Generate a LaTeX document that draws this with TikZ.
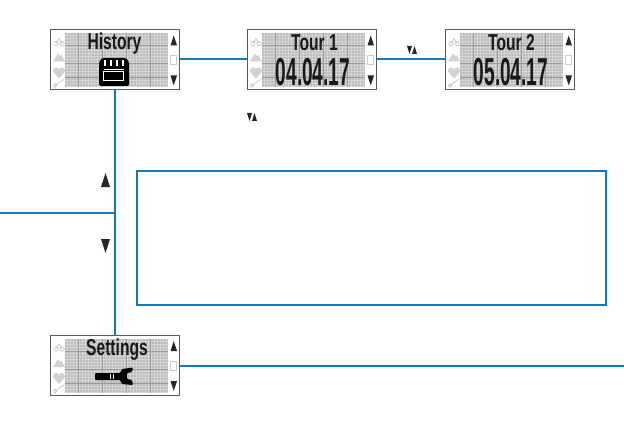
\documentclass[tikz,border=0pt]{standalone}
\usepackage{fontspec}
\setmainfont{Liberation Sans}
\usepackage{xcolor}
\usepackage{graphicx}
\usepackage{tikz}
\usetikzlibrary{positioning, calc}

\begin{document}
\begin{tikzpicture}[
        x=1pt, y=-1pt,
        screenbox/.style={draw={rgb,255:red,90;green,90;blue,90}, line width=1pt, fill=white,
            minimum width=129pt, minimum height=60pt, inner sep=0pt, outer sep=0pt},
        notebox/.style={draw=linkblue, line width=2pt, minimum width=469pt, minimum height=134pt,
            inner sep=0pt},
        link/.style={draw=linkblue, line width=2pt},
        titletext/.style={inner sep=0pt, text=black!90},
        iconfill/.style={fill=black!18, draw=none},
        iconline/.style={draw=black!22, line width=0.7pt},
    ]
    \useasboundingbox (0,0) rectangle (624,425);
    \definecolor{linkblue}{RGB}{16,122,180}
    \newcommand{\titlefont}[1]{\scalebox{0.68}[1]{\fontsize{23}{24}\selectfont\bfseries #1}}
    \newcommand{\datefont}[1]{\scalebox{0.49}[1]{\fontsize{39}{39}\selectfont\bfseries #1}}
    \newcommand{\uptri}[4]{\fill[black!85] (#1,#2+#4) -- ++(#3,0) -- ++(-#3/2,-#4) -- cycle;}
    \newcommand{\downtri}[4]{\fill[black!85] (#1,#2) -- ++(#3,0) -- ++(-#3/2,#4) -- cycle;}
    % lcd panel, side icons and arrows, all relative to the screen's corner
    \newcommand{\screendetail}[1]{
        \begin{scope}[shift={(#1.north west)}]
            \fill[black!26] (15,4) rectangle (118,58);
            \foreach \gx in {17,20,...,117} {\draw[white, opacity=0.3, line width=0.5pt] (\gx,4) -- (\gx,58);}
            \foreach \gy in {6,9,...,57} {\draw[white, opacity=0.3, line width=0.5pt] (15,\gy) -- (118,\gy);}
            \foreach \gx in {28,52,76,100} {\draw[black!40, line width=0.5pt] (\gx,4) -- (\gx,58);}
            \foreach \gy in {16,34,48} {\draw[black!40, line width=0.5pt] (15,\gy) -- (118,\gy);}
            % side icons
            \draw[iconline] (6,14) circle (2.2) (12,14) circle (2.2) (6,14) -- (9,9) -- (12,14);
            \fill[iconfill] (3,32) -- (8,24) -- (10,27) -- (11,25) -- (15,32) -- cycle;
            \fill[iconfill] (9,49) -- (3,42) .. controls (3,37) and (8,37) .. (9,40) .. controls (10,37) and (15,37) .. (15,42) -- cycle;
            \draw[iconline] (5,56) circle (1.8) -- (12,51) -- (14,50);
            \draw[black!20, line width=0.6pt] (120,26) rectangle (126,35);
            \uptri{120.5}{6}{6.5}{10}
            \downtri{120.5}{46}{6.5}{10}
        \end{scope}
    }

        % Screens
        \node[screenbox] (history) at (114.5,59.5) {};
        \node[screenbox] (tour1) at (311.5,59.5) {};
        \node[screenbox] (tour2) at (509.5,59.5) {};
        \node[screenbox] (settings) at (114.5,365) {};
        \screendetail{history}
        \screendetail{tour1}
        \screendetail{tour2}
        \screendetail{settings}

        % Screen texts
        \node[titletext] (historytitle) at (114.5,44) {\titlefont{History}};
        \node[titletext] (tour1title) at (314.5,43) {\titlefont{Tour 1}};
        \node[titletext] (tour1date) at (313,72) {\datefont{04.04.17}};
        \node[titletext] (tour2title) at (511.5,43) {\titlefont{Tour 2}};
        \node[titletext] (tour2date) at (511,72) {\datefont{05.04.17}};
        \node[titletext] (settingstitle) at (117,350) {\titlefont{Settings}};

        % Floppy icon
        \fill[black, rounded corners=1.5pt] (99,62) -- (102,58) -- (126,58) -- (129,62) -- (129,86) -- (99,86) -- cycle;
        \draw[white, line width=1pt] (103,72) rectangle (123,81);
        \draw[white, line width=1pt] (104,70) -- (124,70);
        \draw[white, line width=1.2pt] (105,60) -- (105,66) (111,60) -- (111,66) (117,60) -- (117,66) (123,60) -- (123,66);

        % Wrench icon
        \fill[black, rounded corners=1pt] (95,373) -- (120,373) -- (122,369) -- (133,367.5) -- (132,372) -- (127,373) -- (127,379) -- (132,380) -- (133,385) -- (122,384) -- (120,380) -- (95,380) -- cycle;
        \draw[white, line width=0.7pt] (110,374) -- (110,379) (113,374) -- (113,379);

        % Note box
        \node[notebox] (note) at (371.5,238) {};

        % Connectors
        \coordinate (leftend) at (0,213);
        \coordinate (junction) at (history.south |- leftend);
        \coordinate (rightend) at (624,366);
        \draw[link] (history.east) -- (tour1.west);
        \draw[link] (tour1.east) -- (tour2.west);
        \draw[link] (history.south) -- (settings.north);
        \draw[link] (leftend) -- (junction);
        \draw[link] (settings.east |- rightend) -- (rightend);

        % Key marks
        \uptri{101}{173}{9}{14}
        \downtri{101}{239}{9}{14}
        \downtri{407}{46}{5}{8}
        \uptri{412}{46}{5}{8}
        \downtri{247}{113}{5}{8}
        \uptri{252}{113}{5}{8}
    \end{tikzpicture}
\end{document}
